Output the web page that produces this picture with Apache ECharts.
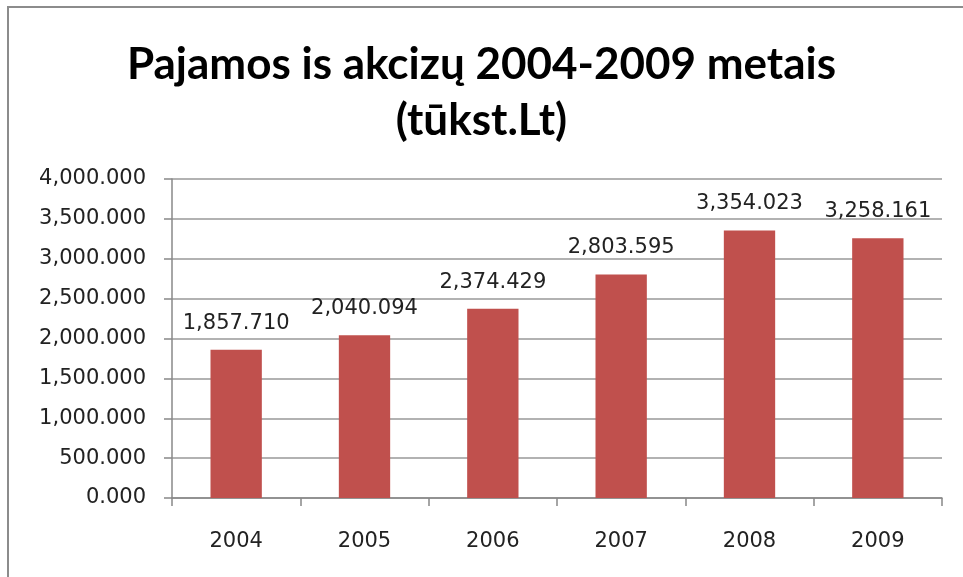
<!DOCTYPE html>
<html>
<head>
<meta charset="utf-8">
<script src="https://cdn.jsdelivr.net/npm/echarts@6/dist/echarts.min.js"></script>
<style>
	html, body { margin: 0; padding: 0; background: #fff; }
	#chart { width: 963px; height: 577px; }
</style>
</head>
<body>
<div id="chart"></div>
<script>
	// 数据
	var titleText = 'Pajamos is akcizų 2004-2009 metais\n(tūkst.Lt)';
	var years = ['2004', '2005', '2006', '2007', '2008', '2009'];
	var values = [1857.710, 2040.094, 2374.429, 2803.595, 3354.023, 3258.161];

	var fmt = function(v) {
		return Number(v).toLocaleString('en-US', { minimumFractionDigits: 3, maximumFractionDigits: 3 });
	};

	var myChart = echarts.init(document.getElementById('chart'));
	var option = {
		backgroundColor: '#fff',
		animation: false,
		textStyle: { fontFamily: 'DejaVu Sans' },
		title: {
			text: titleText,
			left: 'center',
			top: 32,
			textStyle: {
				fontFamily: 'Lato',
				fontWeight: 'bold',
				fontSize: 44,
				lineHeight: 56,
				color: '#000'
			}
		},
		graphic: [{
			type: 'rect',
			shape: { x: 8, y: 7, width: 1000, height: 600 },
			style: { fill: 'none', stroke: '#8c8c8c', lineWidth: 2 },
			silent: true
		}],
		grid: { left: 172, right: 21, top: 179, bottom: 79 },
		xAxis: {
			type: 'category',
			data: years,
			axisLine: { lineStyle: { color: '#888', width: 1.5 } },
			axisTick: { show: true, length: 8, lineStyle: { color: '#888', width: 1.5 } },
			axisLabel: { color: '#222', fontSize: 21, margin: 33 }
		},
		yAxis: {
			type: 'value',
			min: 0,
			max: 4000,
			interval: 500,
			axisLine: { show: true, lineStyle: { color: '#888', width: 1.5 } },
			axisTick: { show: true, length: 8, lineStyle: { color: '#888', width: 1.5 } },
			splitLine: { lineStyle: { color: '#999', width: 1.5 } },
			axisLabel: { color: '#222', fontSize: 21, margin: 26, formatter: fmt }
		},
		series: [{
			type: 'bar',
			data: values,
			barWidth: '40%',
			itemStyle: { color: '#c0504d' },
			label: {
				show: true,
				position: 'top',
				distance: 16,
				color: '#222',
				fontSize: 21,
				formatter: function(p) { return fmt(p.value); }
			}
		}]
	};
	myChart.setOption(option);
</script>
</body>
</html>
